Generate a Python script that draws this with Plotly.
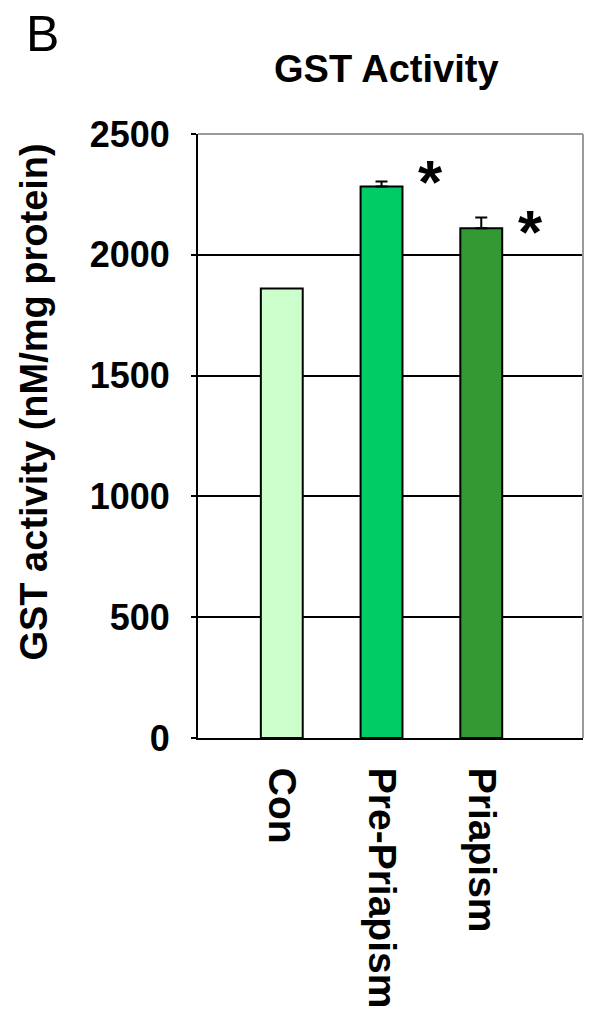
import plotly.graph_objects as go

# GST activity per group
groups = ["Con", "Pre-Priapism", "Priapism"]
gst_activity = [1860, 2283, 2110]
sem_upper = [0, 20, 44]
bar_colors = ["#CCFFCC", "#00CC66", "#339933"]

# significance markers: group index and height
sig_groups = [1, 2]
sig_heights = [2340, 2132]

yticks = [0, 500, 1000, 1500, 2000, 2500]

FONT = "Liberation Sans, Arial, sans-serif"

fig = go.Figure()
for g, v, e, c in zip(groups, gst_activity, sem_upper, bar_colors):
    fig.add_trace(go.Bar(
        x=[g],
        y=[v],
        width=0.42,
        marker=dict(color=c, line=dict(color="black", width=2)),
        error_y=dict(type="data", symmetric=False, array=[e], arrayminus=[0],
                     color="black", thickness=2, width=6, visible=e > 0),
        showlegend=False,
    ))

for gi, h in zip(sig_groups, sig_heights):
    fig.add_annotation(x=gi + 0.49, y=h, xref="x", yref="y", text="<b>*</b>",
                       showarrow=False, font=dict(family=FONT, size=62, color="black"),
                       xanchor="center", yanchor="middle", yshift=-9)

# panel letter
fig.add_annotation(x=-0.452, y=1.215, xref="paper", yref="paper", text="B",
                   showarrow=False, font=dict(family=FONT, size=50, color="black"),
                   xanchor="left", yanchor="top")

# y-axis title as a rotated annotation
fig.add_annotation(x=-0.425, y=0.556, xref="paper", yref="paper",
                   text="<b>GST activity (nM/mg protein)</b>", textangle=-90,
                   showarrow=False, font=dict(family=FONT, size=38, color="black"),
                   xanchor="center", yanchor="middle")

# chart title
fig.add_annotation(x=0.49, y=1.108, xref="paper", yref="paper",
                   text="<b>GST Activity</b>", showarrow=False,
                   font=dict(family=FONT, size=38, color="black"),
                   xanchor="center", yanchor="middle")

# grey frame on top and right of the plot area
fig.add_shape(type="line", xref="paper", yref="paper", x0=0, x1=1, y0=1, y1=1,
              line=dict(color="#9a9a9a", width=2))
fig.add_shape(type="line", xref="paper", yref="paper", x0=1, x1=1, y0=0, y1=1,
              line=dict(color="#9a9a9a", width=2))

fig.update_layout(
    width=592, height=1016,
    margin=dict(l=198, r=9, t=134, b=278),
    barmode="overlay",
    plot_bgcolor="white", paper_bgcolor="white",
    font=dict(family=FONT, color="black"),
    xaxis=dict(
        range=[-0.84, 3.02], showline=True, linecolor="black", linewidth=2,
        showgrid=False, ticks="", tickangle=90,
        categoryorder="array", categoryarray=groups,
        tickfont=dict(family=FONT, size=39, color="black"),
        tickprefix="<b>", ticksuffix="</b>", ticklabelstandoff=20,
    ),
    yaxis=dict(
        range=[0, 2500], tickvals=yticks, ticktext=[f"<b>{v}</b>" for v in yticks],
        showline=True, linecolor="black", linewidth=2,
        showgrid=True, gridcolor="black", gridwidth=1.5,
        zeroline=False, ticks="outside", ticklen=5, tickwidth=2, tickcolor="black",
        tickfont=dict(family=FONT, size=36, color="black"), ticklabelstandoff=14,
    ),
)

fig.write_html("out.html")
